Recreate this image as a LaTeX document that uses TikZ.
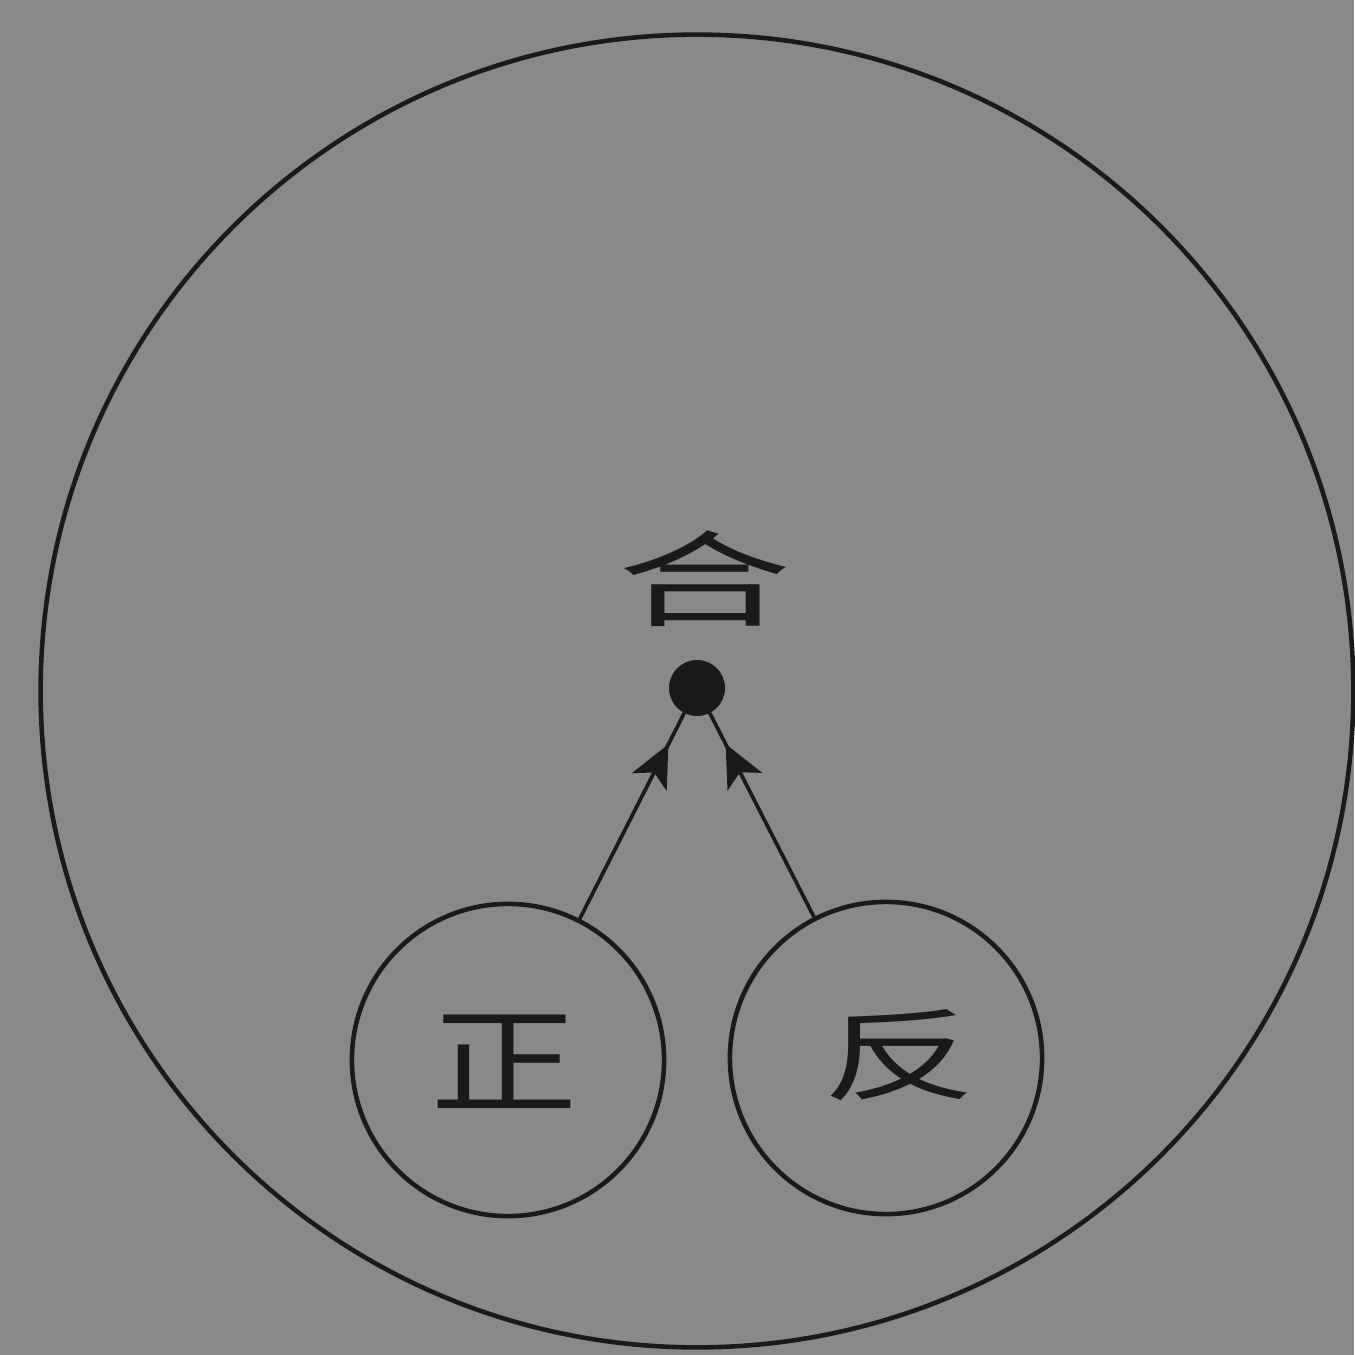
\documentclass[tikz,border=0pt]{standalone}
\usepackage{fontspec}
\newfontfamily\cjk{Noto Sans CJK SC}
\usetikzlibrary{arrows.meta,decorations.markings}
\definecolor{paper}{HTML}{898989}
\definecolor{ink}{HTML}{1A1A1A}
\tikzset{
  ring/.style={circle, draw=ink, line width=1.3pt, minimum size=3.12cm, inner sep=0pt, outer sep=0pt},
  hanzi/.style={font=\cjk\fontsize{40}{40}\selectfont, text=ink},
  midarrow/.style={draw=ink, line width=1.05pt,
    postaction={decorate, decoration={markings,
      mark=at position 0.85 with {\arrow{Stealth[length=12pt,width=11pt,inset=3pt]}}}}},
}
\begin{document}
\begin{tikzpicture}[x=0.01cm,y=-0.01cm]
  \fill[paper] (0,0) rectangle (1354,1355);
  \useasboundingbox (0,0) rectangle (1354,1355);
  \node[circle, draw=ink, line width=1.3pt, minimum size=13.12cm, inner sep=0pt, outer sep=0pt] (big) at (697,691) {};
  \node[circle, fill=ink, minimum size=0.56cm, inner sep=0pt, outer sep=0pt] (dot) at (697,688) {};
  \node[hanzi, xscale=1.24, yscale=0.74] (he) at (705,579) {合};
  \node[ring] (zheng) at (508,1060) {};
  \node[ring] (fan) at (886,1058) {};
  \node[hanzi, xscale=1.05, yscale=0.83] (zt) at (504,1062) {正};
  \node[hanzi, xscale=1.1, yscale=0.71] (ft) at (900,1055) {反};
  \path[midarrow] (zheng) -- (dot);
  \path[midarrow] (fan) -- (dot);
\end{tikzpicture}
\end{document}
